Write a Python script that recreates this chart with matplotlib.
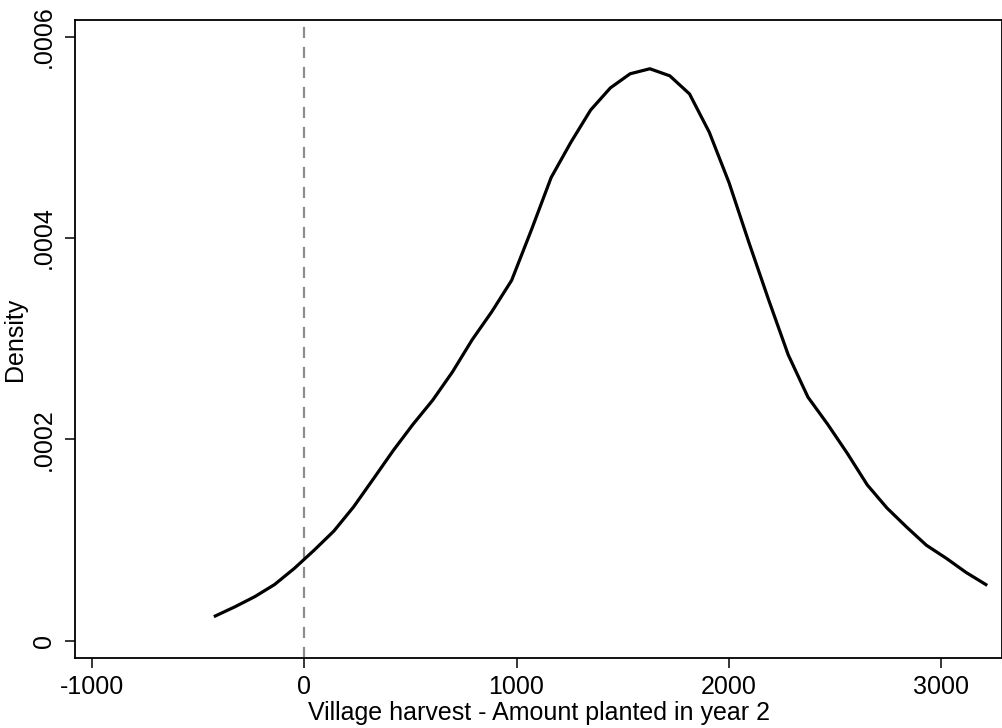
import matplotlib.pyplot as plt

# kernel density estimate
x_vals = [-419, -326, -233, -140, -47, 46, 139, 232, 326, 419,
          512, 605, 698, 791, 884, 977, 1070, 1163, 1256, 1349,
          1442, 1535, 1628, 1722, 1815, 1908, 2001, 2094, 2187, 2280,
          2373, 2466, 2559, 2652, 2745, 2838, 2931, 3025, 3118, 3211]
density = [2.48e-5, 3.4e-5, 4.4e-5, 5.6e-5, 7.2e-5, 9.0e-5, 1.09e-4, 1.33e-4, 1.61e-4, 1.89e-4,
           2.15e-4, 2.39e-4, 2.67e-4, 2.99e-4, 3.27e-4, 3.58e-4, 4.08e-4, 4.60e-4, 4.95e-4, 5.27e-4,
           5.49e-4, 5.63e-4, 5.68e-4, 5.61e-4, 5.43e-4, 5.05e-4, 4.55e-4, 3.96e-4, 3.39e-4, 2.84e-4,
           2.42e-4, 2.15e-4, 1.86e-4, 1.55e-4, 1.32e-4, 1.13e-4, 9.5e-5, 8.2e-5, 6.8e-5, 5.6e-5]

x_ticks = [-1000, 0, 1000, 2000, 3000]
x_labels = ['-1000', '0', '1000', '2000', '3000']
y_ticks = [0, 0.0002, 0.0004, 0.0006]
y_labels = ['0', '.0002', '.0004', '.0006']

plt.rcParams['font.family'] = ['Liberation Sans', 'DejaVu Sans']

fig = plt.figure(figsize=(10.03, 7.28), dpi=100)
ax = fig.add_axes([75 / 1003, (728 - 658) / 728, 927 / 1003, 638 / 728])

ax.axvline(0, color='#8c8c8c', linewidth=1.6, linestyle=(0, (5, 4)), zorder=1)
ax.plot(x_vals, density, color='black', linewidth=2.3, zorder=2)

ax.set_xlim(-1080, 3287)
ax.set_ylim(-0.0000169, 0.0006164)
ax.set_xticks(x_ticks)
ax.set_xticklabels(x_labels)
ax.set_yticks(y_ticks)
ax.set_yticklabels(y_labels, rotation=90, va='center')

ax.tick_params(axis='both', direction='out', length=7, width=1.1, labelsize=18)
ax.tick_params(axis='x', pad=5)
ax.tick_params(axis='y', pad=7)
for s in ax.spines.values():
    s.set_linewidth(1.3)

ax.set_xlabel('Village harvest - Amount planted in year 2', fontsize=18, labelpad=2)
ax.set_ylabel('Density', fontsize=18)
ax.yaxis.set_label_coords(-0.052, 0.5)

fig.savefig('out.png', dpi=100)
